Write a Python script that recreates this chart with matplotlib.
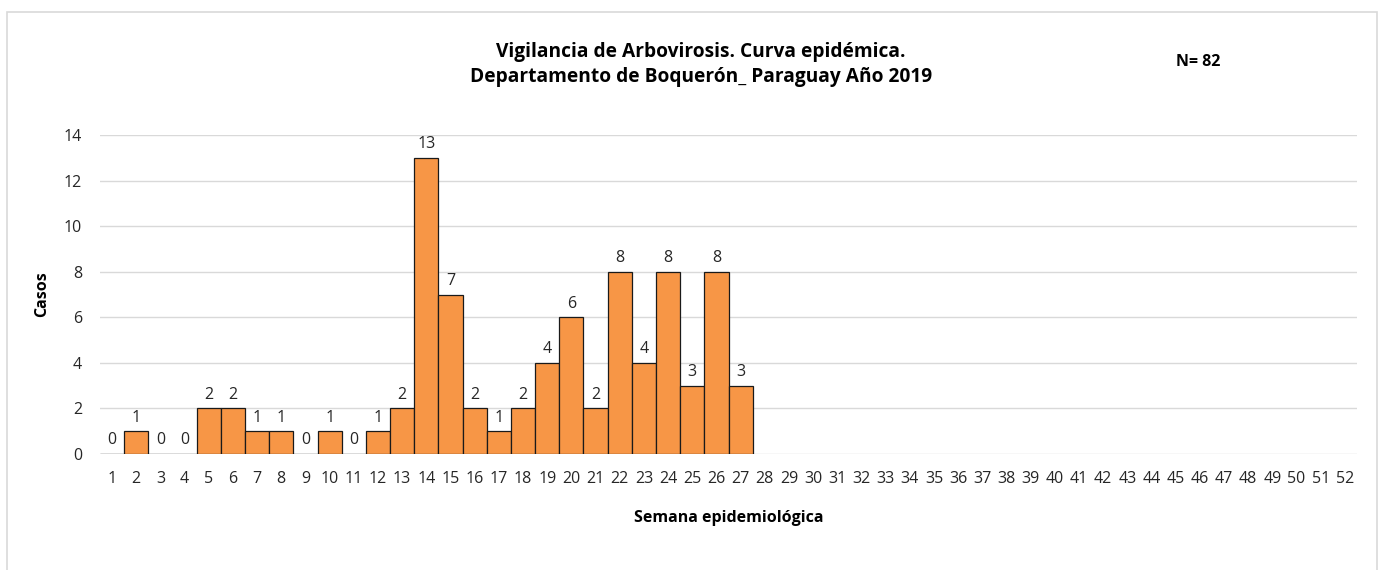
import matplotlib
matplotlib.use("Agg")
import matplotlib.pyplot as plt
from matplotlib.patches import Rectangle

plt.rcParams['font.family'] = ['Open Sans', 'DejaVu Sans']

semanas = list(range(1, 53))
casos = [0, 1, 0, 0, 2, 2, 1, 1, 0, 1, 0, 1, 2, 13, 7, 2, 1, 2, 4, 6, 2, 8, 4, 8, 3, 8, 3]
titulo = "Vigilancia de Arbovirosis. Curva epidémica.\nDepartamento de Boquerón_ Paraguay Año 2019"
total_txt = "N= 82"

fig = plt.figure(figsize=(13.8, 5.7), dpi=100)
# marco del grafico
fig.patches.append(Rectangle((7 / 1380, -0.01), 1370 / 1380, 1 - 12 / 570 + 0.01,
                             transform=fig.transFigure, fill=False,
                             edgecolor='#d9d9d9', linewidth=1.2))

ax = fig.add_axes([100 / 1380, 1 - 454 / 570, 1257 / 1380, (454 - 135) / 570])
x = semanas[:len(casos)]
ax.bar(x, casos, width=1.0, color='#F79646', edgecolor='#1a1a1a', linewidth=0.9, zorder=3)
for xi, v in zip(x, casos):
    ax.text(xi, v + 0.42, str(v), ha='center', va='baseline', fontsize=11.5, color='#262626')

ax.set_xlim(0.5, 52.5)
ax.set_ylim(0, 14)
ax.set_yticks(range(0, 15, 2))
ax.set_xticks(semanas)
ax.tick_params(axis='both', length=0, labelsize=11.5, colors='#262626')
ax.tick_params(axis='x', pad=12)
ax.tick_params(axis='y', pad=13)
ax.grid(axis='y', color='#d9d9d9', linewidth=1, zorder=0)
for s in ax.spines.values():
    s.set_visible(False)

ax.set_ylabel("Casos", fontsize=11.5, fontweight='bold')
ax.yaxis.set_label_coords(-58 / 1257, 0.5)
ax.yaxis.label.set_va('center')
ax.set_xlabel("Semana epidemiológica", fontsize=11.5, fontweight='bold')
ax.xaxis.set_label_coords(0.5, -(518 - 454) / 319)
ax.xaxis.label.set_va('center')

fig.text(701 / 1380, 1 - 64.5 / 570, titulo, ha='center', va='center',
         fontsize=13.8, fontweight='bold', linespacing=1.3)
fig.text(1198 / 1380, 1 - 62 / 570, total_txt, ha='center', va='center',
         fontsize=11.5, fontweight='bold')

fig.savefig("out.png", dpi=100)
